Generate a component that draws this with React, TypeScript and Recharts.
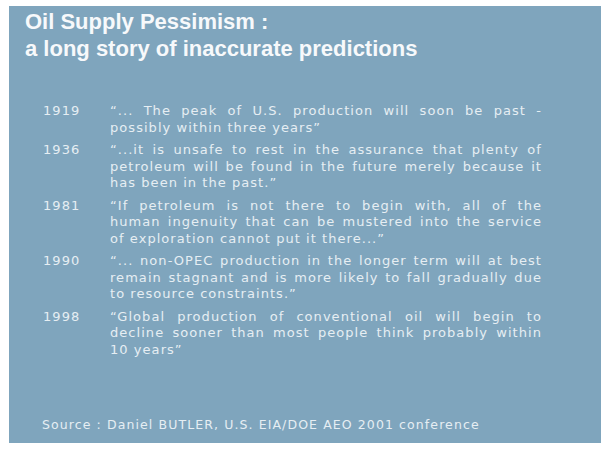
import { ScatterChart, Scatter, XAxis, YAxis } from "recharts";

const titleLines = ["Oil Supply Pessimism :", "a long story of inaccurate predictions"];

const years = ["1919", "1936", "1981", "1990", "1998"];

const quotes = [
  ["“... The peak of U.S. production will soon be past -", "possibly within three years”"],
  [
    "“...it is unsafe to rest in the assurance that plenty of",
    "petroleum will be found in the future merely because it",
    "has been in the past.”",
  ],
  [
    "“If petroleum is not there to begin with, all of the",
    "human ingenuity that can be mustered into the service",
    "of exploration cannot put it there...”",
  ],
  [
    "“... non-OPEC production in the longer term will at best",
    "remain stagnant and is more likely to fall gradually due",
    "to resource constraints.”",
  ],
  [
    "“Global production of conventional oil will begin to",
    "decline sooner than most people think probably within",
    "10 years”",
  ],
];

const source = "Source : Daniel BUTLER, U.S. EIA/DOE AEO 2001 conference";

// layout
const W = 603;
const H = 452;
const BG = "#7fa5bd";
const TEXT = "#e6eef3";
const FONT = "'DejaVu Sans', sans-serif";
const FS = 13;
const LS = 1.05;
const ROW_PX = 16.5;
const GAP_ROWS = 6 / ROW_PX;
const FIRST_BASE = 115;
const YEAR_X = 43;
const QUOTE_X = 110;
const QUOTE_W = 432;

// one row per printed line, positioned by line index + gap per quote
const rows: { x: number; row: number; text: string; justify: boolean }[] = [];
const yearRows: { x: number; row: number; text: string; justify: boolean }[] = [];
let lineIdx = 0;
quotes.forEach((lines, i) => {
  yearRows.push({ x: 0, row: lineIdx + GAP_ROWS * i, text: years[i], justify: false });
  lines.forEach((t, j) => {
    rows.push({ x: 1, row: lineIdx + GAP_ROWS * i, text: t, justify: j < lines.length - 1 });
    lineIdx++;
  });
});
const lastRow = rows[rows.length - 1].row;

let ctx: CanvasRenderingContext2D | null = null;
function measure(s: string) {
  if (!ctx) {
    ctx = document.createElement("canvas").getContext("2d");
    if (ctx) ctx.font = `${FS}px 'DejaVu Sans'`;
  }
  return (ctx ? ctx.measureText(s).width : s.length * FS * 0.6) + LS * s.length;
}

function LineShape(props: any) {
  const { cx, cy, payload } = props;
  const base = { y: cy, fill: TEXT, fontSize: FS, fontFamily: FONT, letterSpacing: LS };
  if (!payload.justify) {
    return (
      <text x={cx} {...base}>
        {payload.text}
      </text>
    );
  }
  const words: string[] = payload.text.split(" ");
  const widths = words.map(measure);
  const total = widths.reduce((a, b) => a + b, 0);
  const gap = (QUOTE_W - total) / (words.length - 1);
  let x = cx;
  const xs = widths.map((w) => {
    const cur = x;
    x += w + gap;
    return cur;
  });
  return (
    <text {...base}>
      {words.map((w, i) => (
        <tspan key={i} x={xs[i]}>
          {w}
        </tspan>
      ))}
    </text>
  );
}

export default function App() {
  return (
    <div style={{ position: "absolute", left: 0, top: 0, width: W, height: H, background: "#fff" }}>
      <div
        style={{
          position: "absolute",
          left: 9,
          top: 6,
          width: 592,
          height: 437,
          background: BG,
        }}
      />
      <div
        style={{
          position: "absolute",
          left: 25,
          top: 8,
          fontFamily: "'Liberation Sans', Arial, sans-serif",
          fontWeight: "bold",
          fontSize: 22,
          lineHeight: "27px",
          color: "#f7f9fb",
        }}
      >
        {titleLines.map((t) => (
          <div key={t}>{t}</div>
        ))}
      </div>
      <div style={{ position: "absolute", left: 0, top: 0 }}>
        <ScatterChart
          width={W}
          height={H}
          margin={{
            top: FIRST_BASE - ROW_PX,
            bottom: H - (FIRST_BASE + (lastRow + 1) * ROW_PX),
            left: YEAR_X,
            right: W - QUOTE_X,
          }}
        >
          <XAxis type="number" dataKey="x" domain={[0, 1]} hide />
          <YAxis type="number" dataKey="row" domain={[-1, lastRow + 1]} reversed hide />
          <Scatter data={yearRows} shape={LineShape} isAnimationActive={false} />
          <Scatter data={rows} shape={LineShape} isAnimationActive={false} />
        </ScatterChart>
      </div>
      <div
        style={{
          position: "absolute",
          left: 42,
          top: 417,
          fontFamily: FONT,
          fontSize: 12.5,
          letterSpacing: 1.1,
          color: TEXT,
          whiteSpace: "nowrap",
        }}
      >
        {source}
      </div>
    </div>
  );
}
